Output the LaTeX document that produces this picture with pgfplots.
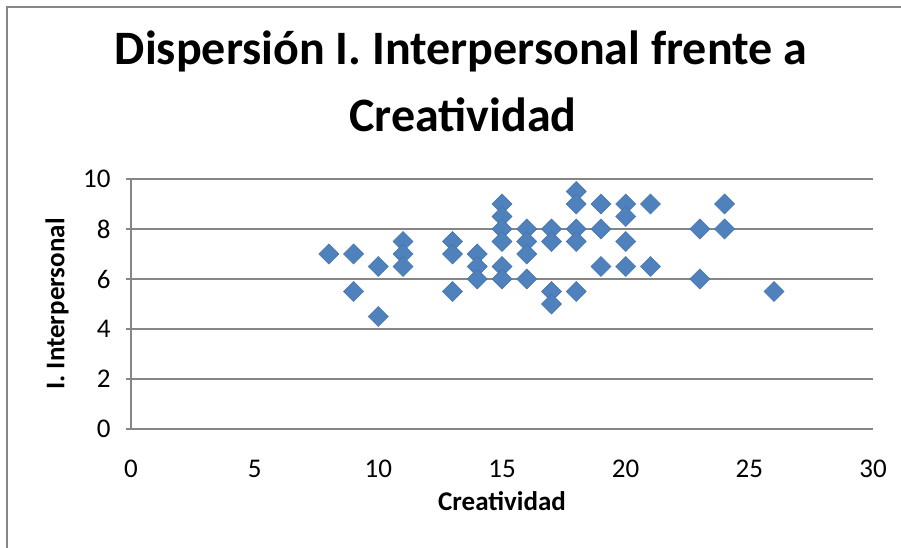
\documentclass[border=0pt]{standalone}
\usepackage{pgfplots}
\pgfplotsset{compat=1.18}
\usepackage{fontspec}
\setmainfont{Carlito}
\definecolor{excelblue}{HTML}{4F81BD}
\definecolor{gridgrey}{HTML}{868686}
\begin{document}
\begin{tikzpicture}
\useasboundingbox (0pt,0pt) rectangle (901pt,548pt);
\fill[white] (0pt,0pt) rectangle (901pt,548pt);
\draw[gridgrey, line width=1.5pt] (7pt,0pt) -- (7pt,541pt) -- (901pt,541pt);
\node[anchor=base, font=\fontsize{48}{58}\selectfont\bfseries] at (461pt,483pt) {Dispersión I. Interpersonal frente a};
\node[anchor=base, font=\fontsize{48}{58}\selectfont\bfseries] at (463pt,416pt) {Creatividad};
\begin{axis}[
  at={(131pt,119pt)}, anchor=south west,
  scale only axis, width=742pt, height=250pt,
  xmin=0, xmax=30, ymin=0, ymax=10,
  xtick={0,5,...,30}, ytick={0,2,...,10},
  axis x line*=bottom, axis y line*=left,
  axis line style={gridgrey, line width=1.2pt},
  ymajorgrids, grid style={gridgrey, line width=1.2pt},
  tick style={gridgrey, line width=1.2pt},
  x tick style={draw=none},
  major tick length=5pt,
  tick align=outside,
  /pgf/number format/assume math mode=true,
  tick label style={font=\fontsize{27}{30}\selectfont},
  xticklabel style={anchor=base, yshift=-43pt},
  yticklabel style={anchor=east, xshift=-12pt},
  xlabel={Creatividad},
  ylabel={I. Interpersonal},
  label style={font=\fontsize{27}{30}\selectfont\bfseries},
  xlabel style={at={(axis description cs:0.5,-0.324)}, anchor=base},
  ylabel style={at={(axis description cs:-0.0997,0.5)}, anchor=center, rotate=0},
  clip=false,
]
\addplot[only marks, mark=square*, mark size=7.1pt,
  mark options={rotate=45, fill=excelblue, draw=excelblue!90!black, line width=0.5pt}]
  coordinates {
  (8,7)
  (9,7) (9,5.5)
  (10,6.5) (10,4.5)
  (11,7.5) (11,7) (11,6.5)
  (13,7.5) (13,7) (13,5.5)
  (14,7) (14,6.5) (14,6)
  (15,9) (15,8.5) (15,8) (15,7.5) (15,6.5) (15,6)
  (16,8) (16,7.5) (16,7) (16,6)
  (17,8) (17,7.5) (17,5.5) (17,5)
  (18,9.5) (18,9) (18,8) (18,7.5) (18,5.5)
  (19,9) (19,8) (19,6.5)
  (20,9) (20,8.5) (20,7.5) (20,6.5)
  (21,9) (21,6.5)
  (23,8) (23,6)
  (24,9) (24,8)
  (26,5.5)
  };
\end{axis}
\end{tikzpicture}
\end{document}
